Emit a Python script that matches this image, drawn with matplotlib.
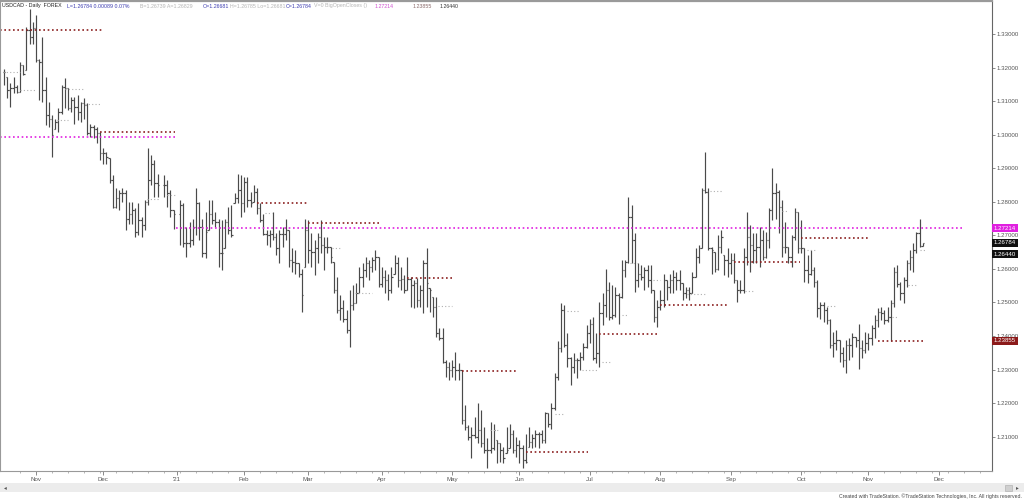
import numpy as np
import pandas as pd
import matplotlib
matplotlib.use("Agg")
import matplotlib.pyplot as plt
from matplotlib.ticker import FixedLocator, FormatStrFormatter

nan = np.nan

# USDCAD daily bars, 19 Oct 2020 - 24 Nov 2021 (weekdays; Christmas / New Year empty)
first_day = "2020-10-19"

highs = [
    1.3197, 1.3173, 1.3153, 1.3173, 1.3148, 1.3217, 1.3207, 1.3321, 1.3376, 1.3336,
    1.3356, 1.3227, 1.3291, 1.3173, 1.3098, 1.3058, 1.3048, 1.3078, 1.3148, 1.3168,
    1.3138, 1.3113, 1.3113, 1.3118, 1.3098, 1.3108, 1.3093, 1.3033, 1.3028, 1.3023,
    1.3009, 1.2959, 1.2949, 1.2929, 1.2879, 1.2840, 1.2835, 1.2840, 1.2835, 1.2800,
    1.2800, 1.2780, 1.2795, 1.2755, 1.2805, 1.2959, 1.2939, 1.2924, 1.2884, nan,
    1.2879, 1.2865, 1.2835, 1.2775, nan, 1.2805, 1.2795, 1.2725, 1.2740, 1.2750,
    1.2840, 1.2800, 1.2750, 1.2770, 1.2805, 1.2805, 1.2770, 1.2750, 1.2745, 1.2750,
    1.2785, 1.2790, 1.2825, 1.2884, 1.2879, 1.2874, 1.2874, 1.2830, 1.2850, 1.2840,
    1.2795, 1.2765, 1.2716, 1.2716, 1.2770, 1.2706, 1.2716, 1.2726, 1.2750, 1.2716,
    1.2661, 1.2656, 1.2616, 1.2601, 1.2750, 1.2745, 1.2706, 1.2686, 1.2706, 1.2745,
    1.2696, 1.2696, 1.2666, 1.2621, 1.2577, 1.2522, 1.2507, 1.2477, 1.2537, 1.2552,
    1.2557, 1.2606, 1.2616, 1.2636, 1.2626, 1.2636, 1.2656, 1.2636, 1.2606, 1.2596,
    1.2586, 1.2606, 1.2641, 1.2636, 1.2606, 1.2581, 1.2636, 1.2577, 1.2567, 1.2572,
    1.2552, 1.2626, 1.2661, 1.2542, 1.2517, 1.2517, 1.2423, 1.2423, 1.2328, 1.2323,
    1.2328, 1.2353, 1.2318, 1.2298, 1.2194, 1.2134, 1.2129, 1.2159, 1.2199, 1.2179,
    1.2129, 1.2095, 1.2144, 1.2139, 1.2089, 1.2080, 1.2070, 1.2129, 1.2139, 1.2119,
    1.2100, 1.2090, 1.2075, 1.2109, 1.2129, 1.2109, 1.2119, 1.2114, 1.2119, 1.2174,
    1.2169, 1.2199, 1.2289, 1.2384, 1.2497, 1.2492, 1.2408, 1.2338, 1.2348, 1.2333,
    1.2353, 1.2378, 1.2433, 1.2452, 1.2457, 1.2408, 1.2502, 1.2527, 1.2601, 1.2562,
    1.2552, 1.2547, 1.2527, 1.2626, 1.2626, 1.2815, 1.2790, 1.2706, 1.2616, 1.2611,
    1.2606, 1.2611, 1.2611, 1.2537, 1.2507, 1.2537, 1.2586, 1.2567, 1.2586, 1.2596,
    1.2591, 1.2596, 1.2557, 1.2547, 1.2547, 1.2591, 1.2661, 1.2671, 1.2840, 1.2949,
    1.2840, 1.2666, 1.2651, 1.2701, 1.2716, 1.2641, 1.2661, 1.2646, 1.2646, 1.2567,
    1.2567, 1.2661, 1.2770, 1.2730, 1.2706, 1.2706, 1.2726, 1.2716, 1.2711, 1.2780,
    1.2900, 1.2855, 1.2835, 1.2805, 1.2740, 1.2666, 1.2701, 1.2780, 1.2770, 1.2745,
    1.2661, 1.2641, 1.2656, 1.2606, 1.2567, 1.2502, 1.2502, 1.2487, 1.2452, 1.2413,
    1.2418, 1.2388, 1.2368, 1.2388, 1.2393, 1.2408, 1.2398, 1.2437, 1.2388, 1.2413,
    1.2408, 1.2432, 1.2462, 1.2482, 1.2487, 1.2477, 1.2487, 1.2507, 1.2606, 1.2611,
    1.2562, 1.2577, 1.2626, 1.2656, 1.2676, 1.2711, 1.2750, 1.26785,
]

lows = [
    1.3148, 1.3108, 1.3083, 1.3123, 1.3123, 1.3128, 1.3177, 1.3192, 1.3271, 1.3271,
    1.3217, 1.3103, 1.3098, 1.3028, 1.3023, 1.2934, 1.3018, 1.3008, 1.3063, 1.3078,
    1.3073, 1.3068, 1.3033, 1.3043, 1.3038, 1.3048, 1.2999, 1.2994, 1.2989, 1.2974,
    1.2924, 1.2914, 1.2914, 1.2855, 1.2780, 1.2780, 1.2775, 1.2800, 1.2715, 1.2735,
    1.2735, 1.2696, 1.2701, 1.2696, 1.2715, 1.2790, 1.2850, 1.2815, 1.2815, nan,
    1.2815, 1.2785, 1.2755, 1.2720, nan, 1.2671, 1.2666, 1.2636, 1.2666, 1.2671,
    1.2701, 1.2686, 1.2636, 1.2631, 1.2715, 1.2735, 1.2725, 1.2606, 1.2596, 1.2661,
    1.2705, 1.2696, 1.2795, 1.2795, 1.2755, 1.2770, 1.2785, 1.2785, 1.2800, 1.2765,
    1.2740, 1.2701, 1.2671, 1.2666, 1.2686, 1.2641, 1.2616, 1.2666, 1.2686, 1.2606,
    1.2591, 1.2586, 1.2576, 1.2472, 1.2606, 1.2616, 1.2606, 1.2581, 1.2616, 1.2646,
    1.2596, 1.2646, 1.2616, 1.2527, 1.2467, 1.2447, 1.2442, 1.2408, 1.2368, 1.2477,
    1.2497, 1.2527, 1.2546, 1.2576, 1.2566, 1.2591, 1.2596, 1.2546, 1.2546, 1.2527,
    1.2507, 1.2527, 1.2586, 1.2546, 1.2537, 1.2527, 1.2537, 1.2487, 1.2482, 1.2487,
    1.2487, 1.2467, 1.2487, 1.2472, 1.2457, 1.2398, 1.2388, 1.2318, 1.2279, 1.2269,
    1.2279, 1.2269, 1.2269, 1.2139, 1.2119, 1.2089, 1.2035, 1.2095, 1.2080, 1.2070,
    1.2050, 1.2005, 1.2050, 1.2060, 1.2020, 1.2025, 1.2020, 1.2050, 1.2065, 1.2050,
    1.2040, 1.2020, 1.2007, 1.2020, 1.2070, 1.2065, 1.2070, 1.2065, 1.2080, 1.2080,
    1.2129, 1.2124, 1.2179, 1.2269, 1.2353, 1.2368, 1.2308, 1.2254, 1.2289, 1.2274,
    1.2298, 1.2328, 1.2363, 1.2378, 1.2328, 1.2318, 1.2308, 1.2432, 1.2457, 1.2447,
    1.2452, 1.2457, 1.2437, 1.2512, 1.2576, 1.2616, 1.2616, 1.2532, 1.2547, 1.2566,
    1.2537, 1.2546, 1.2527, 1.2442, 1.2427, 1.2477, 1.2487, 1.2507, 1.2527, 1.2527,
    1.2537, 1.2537, 1.2507, 1.2512, 1.2507, 1.2527, 1.2577, 1.2616, 1.2661, 1.2825,
    1.2656, 1.2586, 1.2591, 1.2596, 1.2646, 1.2581, 1.2577, 1.2586, 1.2557, 1.2502,
    1.2527, 1.2527, 1.2611, 1.2591, 1.2616, 1.2616, 1.2606, 1.2626, 1.2631, 1.2661,
    1.2745, 1.2750, 1.2706, 1.2636, 1.2646, 1.2616, 1.2606, 1.2686, 1.2646, 1.2646,
    1.2562, 1.2557, 1.2581, 1.2547, 1.2457, 1.2452, 1.2442, 1.2437, 1.2363, 1.2338,
    1.2358, 1.2323, 1.2308, 1.2289, 1.2328, 1.2338, 1.2368, 1.2303, 1.2333, 1.2348,
    1.2358, 1.2373, 1.2393, 1.2427, 1.2447, 1.2437, 1.2442, 1.2386, 1.2487, 1.2546,
    1.2507, 1.2497, 1.2546, 1.2596, 1.2591, 1.2646, 1.2666, 1.26681,
]

closes = [
    1.3187, 1.3133, 1.3138, 1.3143, 1.3128, 1.3207, 1.3182, 1.3311, 1.3290, 1.3318,
    1.3222, 1.3217, 1.3133, 1.3058, 1.3048, 1.2999, 1.3038, 1.3068, 1.3143, 1.3138,
    1.3078, 1.3103, 1.3083, 1.3068, 1.3093, 1.3088, 1.3004, 1.3023, 1.3018, 1.3004,
    1.2944, 1.2944, 1.2934, 1.2864, 1.2785, 1.2810, 1.2825, 1.2825, 1.2750, 1.2765,
    1.2775, 1.2711, 1.2745, 1.2730, 1.2800, 1.2865, 1.2914, 1.2855, 1.2850, nan,
    1.2850, 1.2825, 1.2775, 1.2765, nan, 1.2790, 1.2676, 1.2676, 1.2686, 1.2725,
    1.2795, 1.2725, 1.2646, 1.2711, 1.2765, 1.2745, 1.2740, 1.2646, 1.2646, 1.2740,
    1.2715, 1.2700, 1.2810, 1.2835, 1.2795, 1.2860, 1.2805, 1.2795, 1.2830, 1.2780,
    1.2745, 1.2705, 1.2701, 1.2705, 1.2696, 1.2661, 1.2705, 1.2705, 1.2716, 1.2626,
    1.2621, 1.2616, 1.2586, 1.2522, 1.2716, 1.2656, 1.2651, 1.2661, 1.2696, 1.2671,
    1.2666, 1.2666, 1.2636, 1.2537, 1.2477, 1.2482, 1.2452, 1.2418, 1.2492, 1.2497,
    1.2527, 1.2577, 1.2596, 1.2616, 1.2606, 1.2626, 1.2636, 1.2556, 1.2577, 1.2566,
    1.2537, 1.2577, 1.2616, 1.2566, 1.2571, 1.2537, 1.2571, 1.2552, 1.2557, 1.2507,
    1.2537, 1.2616, 1.2557, 1.2537, 1.2487, 1.2408, 1.2393, 1.2323, 1.2308, 1.2298,
    1.2308, 1.2298, 1.2298, 1.2149, 1.2129, 1.2099, 1.2104, 1.2099, 1.2119, 1.2080,
    1.2060, 1.2060, 1.2065, 1.2119, 1.2080, 1.2060, 1.2035, 1.2060, 1.2109, 1.2060,
    1.2075, 1.2065, 1.2030, 1.2025, 1.2085, 1.2095, 1.2109, 1.2109, 1.2089, 1.2169,
    1.2139, 1.2184, 1.2279, 1.2364, 1.2477, 1.2373, 1.2333, 1.2308, 1.2328, 1.2328,
    1.2338, 1.2368, 1.2408, 1.2437, 1.2333, 1.2348, 1.2467, 1.2492, 1.2537, 1.2457,
    1.2462, 1.2522, 1.2517, 1.2596, 1.2621, 1.2755, 1.2686, 1.2566, 1.2586, 1.2576,
    1.2596, 1.2566, 1.2537, 1.2457, 1.2487, 1.2507, 1.2567, 1.2547, 1.2567, 1.2577,
    1.2567, 1.2557, 1.2527, 1.2537, 1.2527, 1.2577, 1.2636, 1.2661, 1.2835, 1.2830,
    1.2661, 1.2656, 1.2601, 1.2666, 1.2696, 1.2626, 1.2616, 1.2626, 1.2567, 1.2537,
    1.2537, 1.2636, 1.2696, 1.2671, 1.2656, 1.2666, 1.2686, 1.2636, 1.2686, 1.2775,
    1.2825, 1.2830, 1.2785, 1.2666, 1.2666, 1.2636, 1.2696, 1.2770, 1.2661, 1.2661,
    1.2596, 1.2586, 1.2596, 1.2562, 1.2482, 1.2492, 1.2477, 1.2447, 1.2373, 1.2378,
    1.2388, 1.2348, 1.2328, 1.2373, 1.2373, 1.2398, 1.2388, 1.2363, 1.2358, 1.2378,
    1.2393, 1.2423, 1.2447, 1.2472, 1.2467, 1.2447, 1.2457, 1.2497, 1.2592, 1.2556,
    1.2527, 1.2567, 1.2616, 1.2636, 1.2656, 1.2706, 1.26681, 1.26784,
]

# BigOpenCloses levels: value, first bar, last bar
maroon_levels = [1.3313, 1.3009, 1.2797, 1.2738, 1.2573, 1.2296, 1.2055, 1.2407, 1.2492, 1.2620, 1.2691, 1.23855]
maroon_start = [-1.2, 30, 79, 95, 126, 143, 163, 186, 205, 228, 249, 273]
maroon_end = [30.5, 53.5, 95, 117.5, 140, 160.5, 182.5, 204.5, 226.5, 248.5, 270, 287.5]

magenta_levels = [1.2992, 1.27214]
magenta_start = [-1.2, 53.7]
magenta_end = [53.7, 300]

grey_levels = [1.3187, 1.3133, 1.3135, 1.3044, 1.3091, 1.2807, 1.2820, 1.2767, 1.2661, 1.2529,
               1.2489, 1.2119, 1.2168, 1.2474, 1.2298, 1.2323, 1.2462, 1.2617, 1.2567, 1.2525,
               1.2831, 1.2535, 1.2771, 1.2655, 1.2489, 1.2457, 1.2551, 1.2655]
grey_start = [-0.3, 5, 19, 16.5, 25.3, 44.7, 51, 81.5, 102.4, 109.6,
              135.5, 151.8, 172, 175.8, 180.5, 186.8, 193, 195.5, 202.7, 213.3,
              220.5, 231.4, 243, 250.8, 257, 277.3, 282.3, 286]
grey_end = [5, 9.7, 24.7, 20, 30, 48.7, 53.4, 83.7, 105.6, 115,
            140, 154.3, 174.6, 180, 185.2, 190, 194.6, 197.7, 204.9, 219.6,
            224.5, 234.5, 244.8, 253.3, 259.5, 279.2, 285.1, 287.6]

axis_tags = [("1.27214", 1.27214, "#e020e0"), ("1.26784", 1.26784, "#111111"),
             ("1.26440", 1.26440, "#111111"), ("1.23855", 1.23855, "#8b1a1a")]

# ---- prep
h = np.array(highs, dtype=float)
l = np.array(lows, dtype=float)
c = np.array(closes, dtype=float)
n = len(c)
xi = np.arange(n)

# forex bars open where the previous one closed
o = np.full(n, nan)
prev = c[0]
for k in range(n):
    if np.isnan(c[k]):
        continue
    o[k] = prev
    prev = c[k]
o = np.clip(o, l, h)
ok = ~np.isnan(c)

dates = pd.bdate_range(first_day, "2021-12-31")

plt.rcParams['font.family'] = ['Liberation Sans', 'DejaVu Sans']

W, H = 1024, 499
fig = plt.figure(figsize=(W / 100, H / 100), dpi=100)
ax = fig.add_axes([0, 1 - 471 / H, 992 / W, 470 / H])

bar_col = "#4a4a4a"
ax.vlines(xi[ok], l[ok], h[ok], color=bar_col, lw=0.85)
ax.hlines(o[ok], xi[ok] - 0.45, xi[ok], color=bar_col, lw=0.85)
ax.hlines(c[ok], xi[ok], xi[ok] + 0.45, color=bar_col, lw=0.85)

for lev, s, e in zip(grey_levels, grey_start, grey_end):
    ax.plot([s, e], [lev, lev], color="#b0b0b0", lw=0.8, ls=(0, (1, 2)))
for lev, s, e in zip(maroon_levels, maroon_start, maroon_end):
    ax.plot([s, e], [lev, lev], color="#8b2020", lw=1.2, ls=(0, (1, 1.6)))
for lev, s, e in zip(magenta_levels, magenta_start, magenta_end):
    ax.plot([s, e], [lev, lev], color="#e020e0", lw=1.2, ls=(0, (1, 1.6)))

ax.set_xlim(-1.25, 308.6)
ax.set_ylim(1.19975, 1.33984)

# right price axis
ax.yaxis.tick_right()
ax.yaxis.set_major_locator(FixedLocator(np.round(np.arange(1.21, 1.335, 0.01), 2)))
ax.yaxis.set_major_formatter(FormatStrFormatter('%.5f'))
ax.tick_params(axis='y', direction='out', length=2.5, width=0.6, color='#777777',
               labelcolor='#555555', labelsize=4.4, pad=1)

# month ticks on bar index
month_pos, month_lab, mondays = [], [], []
for k in range(1, len(dates)):
    if dates[k].month != dates[k - 1].month:
        month_pos.append(k)
        month_lab.append("'21" if dates[k].month == 1 else dates[k].strftime('%b'))
    if dates[k].weekday() == 0:
        mondays.append(k)
ax.xaxis.set_major_locator(FixedLocator(month_pos))
ax.set_xticklabels(month_lab)
ax.xaxis.set_minor_locator(FixedLocator(mondays))
ax.tick_params(axis='x', which='major', direction='out', length=3, width=0.6, color='#777777',
               labelcolor='#555555', labelsize=4.4, pad=1.5)
ax.tick_params(axis='x', which='minor', direction='out', length=1.5, width=0.5, color='#999999')

for side in ['left', 'bottom']:
    ax.spines[side].set_color('#999999')
    ax.spines[side].set_linewidth(0.8)
ax.spines['right'].set_color('#666666')
ax.spines['right'].set_linewidth(0.8)
ax.spines['top'].set_color('#9a9a9a')
ax.spines['top'].set_linewidth(1.6)

# coloured price tags on the axis
for txt, lev, col in axis_tags:
    ax.text(1.002, lev, txt, transform=ax.get_yaxis_transform(), ha='left', va='center',
            fontsize=4.4, color='white', clip_on=False,
            bbox=dict(boxstyle='square,pad=0.25', fc=col, ec='none'))

# header line
header = [
    (2, "USDCAD - Daily  FOREX", "#222222"),
    (67, "L=1.26784 0.00089 0.07%", "#3b3bb0"),
    (140, "B=1.26739 A=1.26829", "#b5b5b5"),
    (203, "O=1.26681", "#3b3bb0"),
    (230, "H=1.26785 Lo=1.26681", "#b5b5b5"),
    (286, "C=1.26784", "#3b3bb0"),
    (314, "V=0 BigOpenCloses ()", "#b5b5b5"),
    (375, "1.27214", "#d050d0"),
    (413, "1.23855", "#8a6a6a"),
    (440, "1.26440", "#333333"),
]
for px, txt, col in header:
    fig.text(px / W, 1 - 6 / H, txt, color=col, fontsize=3.8, ha='left', va='center')

# bottom scroll band and footer
fig.patches.append(plt.Rectangle((0, 1 - 492 / H), 1, 9 / H, transform=fig.transFigure,
                                 fc='#ececec', ec='none'))
fig.patches.append(plt.Rectangle((1005 / W, 1 - 491 / H), 7 / W, 6 / H, transform=fig.transFigure,
                                 fc='#d0d0d0', ec='#aaaaaa', lw=0.4))
fig.text(4 / W, 1 - 488 / H, "◂", fontsize=4, color='#555555', ha='left', va='center')
fig.text(1016 / W, 1 - 488 / H, "▸", fontsize=4, color='#555555', ha='left', va='center')
fig.text(1022 / W, 1 - 496 / H,
         "Created with TradeStation. \u00a9TradeStation Technologies, Inc. All rights reserved.",
         fontsize=3.7, color='#444444', ha='right', va='center')

fig.savefig("out.png", dpi=100)
